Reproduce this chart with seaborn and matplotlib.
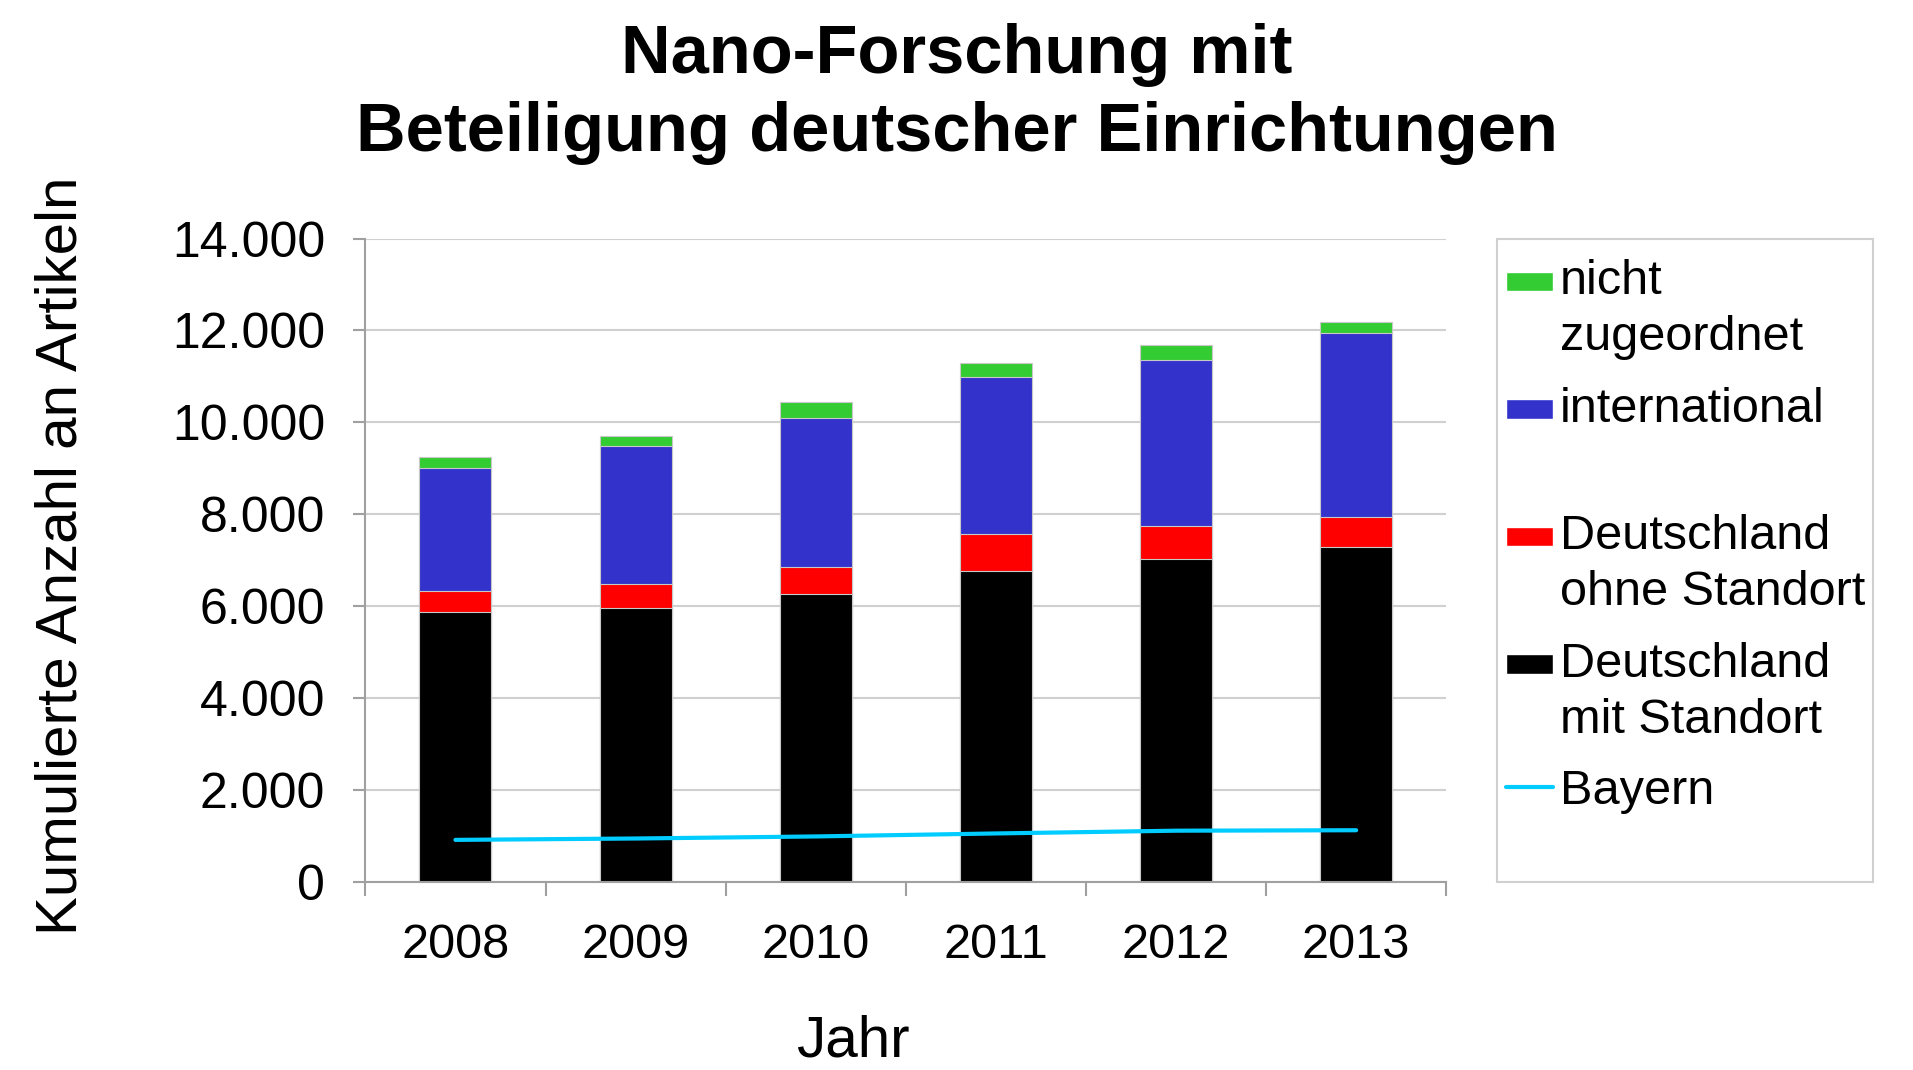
import numpy as np
import pandas as pd
import matplotlib
matplotlib.use('Agg')
import matplotlib.pyplot as plt
import seaborn as sns
from matplotlib.patches import Patch, Rectangle
from matplotlib.lines import Line2D
from matplotlib.legend_handler import HandlerPatch
from matplotlib.ticker import FuncFormatter

# values (articles per year)
years = ['2008', '2009', '2010', '2011', '2012', '2013']
mit_standort = [5870, 5960, 6260, 6770, 7020, 7280]
ohne_standort = [460, 520, 600, 800, 720, 660]
international = [2670, 3010, 3240, 3410, 3620, 4010]
nicht_zugeordnet = [250, 220, 340, 320, 320, 240]
bayern = [910, 940, 985, 1050, 1110, 1120]

series_names = ['mit', 'ohne', 'intl', 'nicht']
bar_colors = {'nicht': '#33cc33', 'intl': '#3333cc', 'ohne': '#ff0000', 'mit': '#000000'}
line_color = '#00ccff'
legend_labels = ['nicht\nzugeordnet', 'international\n ', 'Deutschland\nohne Standort',
                 'Deutschland\nmit Standort', 'Bayern']

sns.set_theme(style='white')
plt.rcParams['font.family'] = ['Liberation Sans', 'DejaVu Sans']
plt.rcParams['text.color'] = 'black'
plt.rcParams['xtick.labelcolor'] = 'black'
plt.rcParams['ytick.labelcolor'] = 'black'

df = pd.DataFrame({'mit': mit_standort, 'ohne': ohne_standort,
                   'intl': international, 'nicht': nicht_zugeordnet})
cum = df[series_names].cumsum(axis=1)
cum['Jahr'] = years

fig = plt.figure(figsize=(19.13, 10.70), dpi=100)
ax = fig.add_axes([0.191, 0.176, 0.565, 0.601])

# stacked bars: draw cumulative tops from the highest layer down
for col in reversed(series_names):
    sns.barplot(data=cum, x='Jahr', y=col, color=bar_colors[col], width=0.4,
                saturation=1, edgecolor='#c8c8c8', linewidth=0.8, ax=ax)

sns.lineplot(x=np.arange(len(years)), y=bayern, color=line_color, lw=3, ax=ax)

ax.set_xlim(-0.5, len(years) - 0.5)
ax.set_ylim(0, 14000)
ax.set_yticks(range(0, 14001, 2000))
ax.yaxis.set_major_formatter(FuncFormatter(lambda v, p: f'{int(v):,}'.replace(',', '.')))
ax.yaxis.grid(True, color='#d0d0d0', lw=1.5)
ax.set_axisbelow(True)

# category boundaries as ticks, year labels in between
ax.set_xticks(np.arange(len(years) + 1) - 0.5)
ax.set_xticklabels([''] * (len(years) + 1))
ax.set_xticks(np.arange(len(years)), minor=True)
ax.set_xticklabels(years, minor=True)
ax.tick_params(axis='x', which='major', length=10, width=1.5, color='#a0a0a0', bottom=True)
ax.tick_params(axis='x', which='minor', length=0, pad=30, labelsize=35, bottom=True,
               labelcolor='black')
ax.tick_params(axis='y', length=9, width=1.5, color='#a0a0a0', labelsize=36, pad=20, left=True,
               labelcolor='black')
ax.set_xlabel('')
ax.set_ylabel('')

for s in ['top', 'right']:
    ax.spines[s].set_visible(False)
for s in ['left', 'bottom']:
    ax.spines[s].set_color('#a0a0a0')
    ax.spines[s].set_linewidth(1.5)


def top_aligned(shift):
    def make_patch(legend, orig_handle, xdescent, ydescent, width, height, fontsize):
        return Rectangle((-xdescent, -ydescent + (height - 14) / 2 + shift), width, 14)
    return make_patch


handles = [Patch(facecolor=bar_colors[k]) for k in ['nicht', 'intl', 'ohne', 'mit']]
handles.append(Line2D([], [], color=line_color, lw=3))
handler_map = {h: HandlerPatch(patch_func=top_aligned(20.5)) for h in handles[:4]}

leg = fig.legend(handles, legend_labels, handler_map=handler_map, loc='upper left',
                 bbox_to_anchor=(0.787, 0.758), frameon=False, fontsize=35,
                 handlelength=0.97, handletextpad=0.15, labelspacing=0.55,
                 borderpad=0, borderaxespad=0)
for t in leg.get_texts():
    t.set_linespacing(1.31)
    t.set_color('black')

fig.add_artist(Rectangle((0.7825, 0.176), 0.1965, 0.601, transform=fig.transFigure,
                         fill=False, edgecolor='#d0d0d0', lw=1.5))

fig.suptitle('Nano-Forschung mit\nBeteiligung deutscher Einrichtungen', x=0.5, y=0.912,
             va='center', fontsize=49.5, fontweight='bold', linespacing=1.27, color='black')
fig.text(0.032, 0.481, 'Kumulierte Anzahl an Artikeln', rotation=90,
         ha='center', va='center', fontsize=42)
fig.text(0.446, 0.027, 'Jahr', ha='center', va='center', fontsize=42)

fig.savefig('out.png', dpi=100)
